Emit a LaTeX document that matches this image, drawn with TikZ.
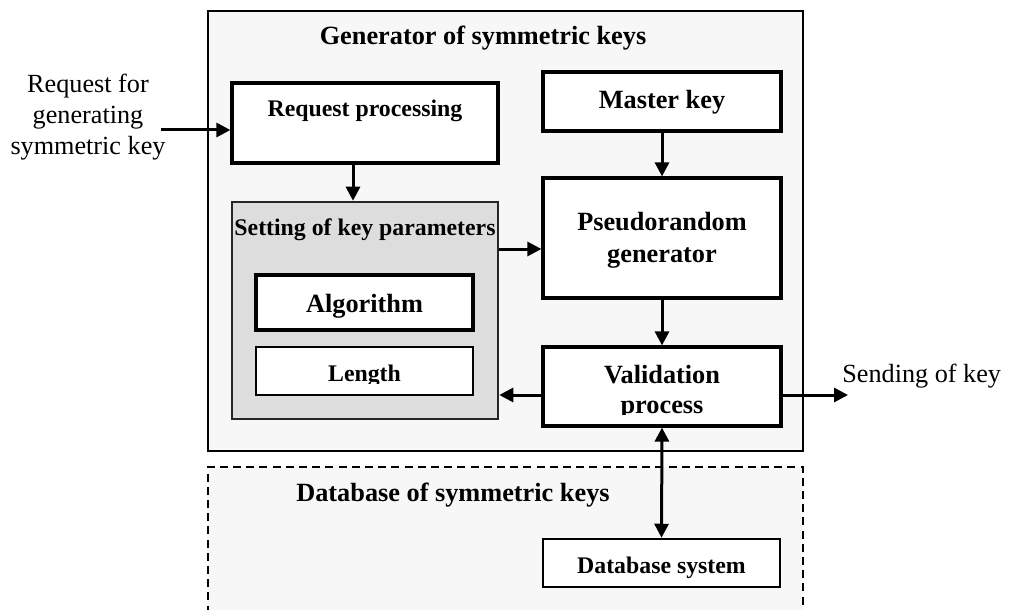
\documentclass[tikz,border=0pt]{standalone}
\usepackage{fontspec}
\setmainfont{Liberation Serif}
\usetikzlibrary{arrows.meta}
\definecolor{panel}{HTML}{F7F7F7}
\definecolor{paramfill}{HTML}{DDDDDD}
\tikzset{
  frame/.style={draw=black, line width=1pt, fill=panel, inner sep=0pt},
  heavybox/.style={draw=black, line width=1.6pt, fill=white, inner sep=0pt},
  lightbox/.style={draw=black, line width=1.25pt, fill=white, inner sep=0pt},
  parambox/.style={draw=black!85, line width=1.3pt, fill=paramfill, inner sep=0pt},
  big/.style={font=\bfseries\fontsize{13.15pt}{15.5pt}\selectfont, anchor=base, inner sep=0pt},
  small/.style={font=\bfseries\fontsize{11.9pt}{14pt}\selectfont, anchor=base, inner sep=0pt},
  plain/.style={font=\fontsize{13.1pt}{15.5pt}\selectfont, anchor=base, inner sep=0pt},
  flow/.style={line width=1.5pt, -{Triangle[length=7pt,width=7pt]}},
  flow2/.style={line width=1.5pt, {Triangle[length=7pt,width=7pt]}-{Triangle[length=7pt,width=7pt]}},
}
\begin{document}
\begin{tikzpicture}[x=0.5pt,y=-0.5pt]
\useasboundingbox (0,0) rectangle (1012,610);
\clip (0,0) rectangle (1012,610);
% generator frame
\node[frame, minimum width=297.5pt, minimum height=220pt] (gen) at (505.5,231) {};
\node[big] (gentitle) at (483,45) {Generator of symmetric keys};
% database frame (open at bottom)
\fill[panel] (208,467) rectangle (803,640);
\draw[line width=0.75pt, dash pattern=on 4pt off 2.6pt] (208,640) -- (208,467) -- (803,467) -- (803,640);
\node[big] (dbtitle) at (453,501) {Database of symmetric keys};
% boxes
\node[heavybox, minimum width=133pt, minimum height=40pt] (rp) at (365,123) {};
\node[small] (rptext) at (365,117) {Request processing};
\node[heavybox, minimum width=119pt, minimum height=29.5pt] (mk) at (662,101.5) {};
\node[big] (mktext) at (662,109) {Master key};
\node[heavybox, minimum width=119pt, minimum height=60pt] (pg) at (662,238) {};
\node[big] (pgtext1) at (662,230) {Pseudorandom};
\node[big] (pgtext2) at (662,262) {generator};
\node[parambox, minimum width=133pt, minimum height=108.5pt] (skp) at (365,310.5) {};
\node[small] (skptext) at (365,235) {Setting of key parameters};
\node[heavybox, minimum width=108.5pt, minimum height=27.5pt] (alg) at (364.5,302.5) {};
\node[big] (algtext) at (364.5,312) {Algorithm};
\node[lightbox, minimum width=108.5pt, minimum height=24pt] (len) at (364.5,371) {};
\begin{scope}
\clip (256,347) rectangle (473,383);
\node[small] (lentext) at (364.5,381) {Length};
\end{scope}
\node[heavybox, minimum width=119pt, minimum height=39.5pt] (vp) at (662,386.5) {};
\node[big] (vptext1) at (662,383) {Validation};
\begin{scope}
\clip (543,347) rectangle (781,414);
\node[big] (vptext2) at (662,413) {process};
\end{scope}
\node[lightbox, minimum width=118.5pt, minimum height=24pt] (db) at (661.5,563) {};
\node[small] (dbtext) at (661.5,573) {Database system};
% outside labels
\node[plain] (req1) at (88,93) {Request for};
\node[plain] (req2) at (88,124) {generating};
\node[plain] (req3) at (88,155) {symmetric key};
\node[plain, anchor=base west] (send) at (842,382) {Sending of key};
% connectors
\coordinate (reqin) at (161,130);
\coordinate (sendout) at (848,395);
\coordinate (rowA) at (520,249);
\coordinate (rowB) at (520,395);
\draw[flow] (reqin) -- (reqin -| rp.west);
\draw[flow] ([xshift=-6pt]rp.south) -- ([xshift=-6pt]skp.north);
\draw[flow] (rowA -| skp.east) -- (rowA -| pg.west);
\draw[flow] (mk.south) -- (pg.north);
\draw[flow] (pg.south) -- (vp.north);
\draw[flow] (rowB -| vp.west) -- (rowB -| skp.east);
\draw[flow] (rowB -| vp.east) -- (sendout);
\draw[flow2] (vp.south) -- (db.north);
\end{tikzpicture}
\end{document}
